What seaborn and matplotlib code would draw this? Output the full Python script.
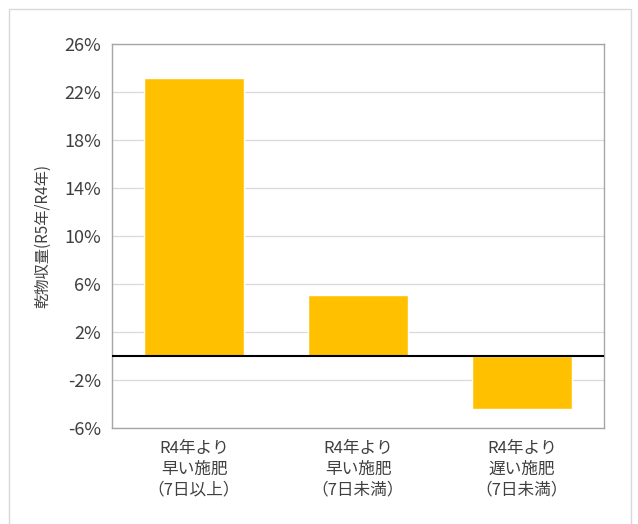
import matplotlib
matplotlib.use("Agg")
import matplotlib.pyplot as plt
import matplotlib.patches as mpatches
import seaborn as sns
import pandas as pd

categories = ["R4年より\n早い施肥\n（7日以上）", "R4年より\n早い施肥\n（7日未満）", "R4年より\n遅い施肥\n（7日未満）"]
values = [23.2, 5.1, -4.4]
yticks = [-6, -2, 2, 6, 10, 14, 18, 22, 26]
ylabel = "乾物収量(R5年/R4年)"

sns.set_theme(style="white")
plt.rcParams['font.family'] = ['Noto Sans CJK JP', 'DejaVu Sans']

df = pd.DataFrame({"cat": categories, "val": values})

fig = plt.figure(figsize=(6.38, 5.24), dpi=100)
fig.patches.append(mpatches.Rectangle((9/638, -0.01), (631-9)/638, 1 - 9/524 + 0.01,
                                      transform=fig.transFigure, fill=False,
                                      edgecolor="#d9d9d9", linewidth=1.0))
ax = fig.add_axes([112/638, 1 - 428/524, (604-112)/638, (428-44)/524])

sns.barplot(data=df, x="cat", y="val", color="#FFC000", saturation=1, width=0.61, ax=ax, zorder=3)

ax.set_ylim(-6, 26)
ax.set_yticks(yticks)
ax.set_yticklabels([f"{t}%" for t in yticks], fontsize=13, color="#404040")
ax.tick_params(axis="x", labelsize=12, colors="#404040", length=0, pad=9)
for lbl in ax.get_xticklabels():
    lbl.set_linespacing(1.25)
ax.tick_params(axis="y", length=0, pad=8)
ax.grid(axis="y", color="#d9d9d9", linewidth=0.9, zorder=0)
ax.set_axisbelow(True)
ax.axhline(0, color="black", linewidth=1.5, zorder=4)
for s in ax.spines.values():
    s.set_color("#a6a6a6")
    s.set_linewidth(1.0)
ax.set_xlabel("")
ax.set_ylabel(ylabel, fontsize=11, color="#404040", labelpad=9)

fig.savefig("out.png", dpi=100)
